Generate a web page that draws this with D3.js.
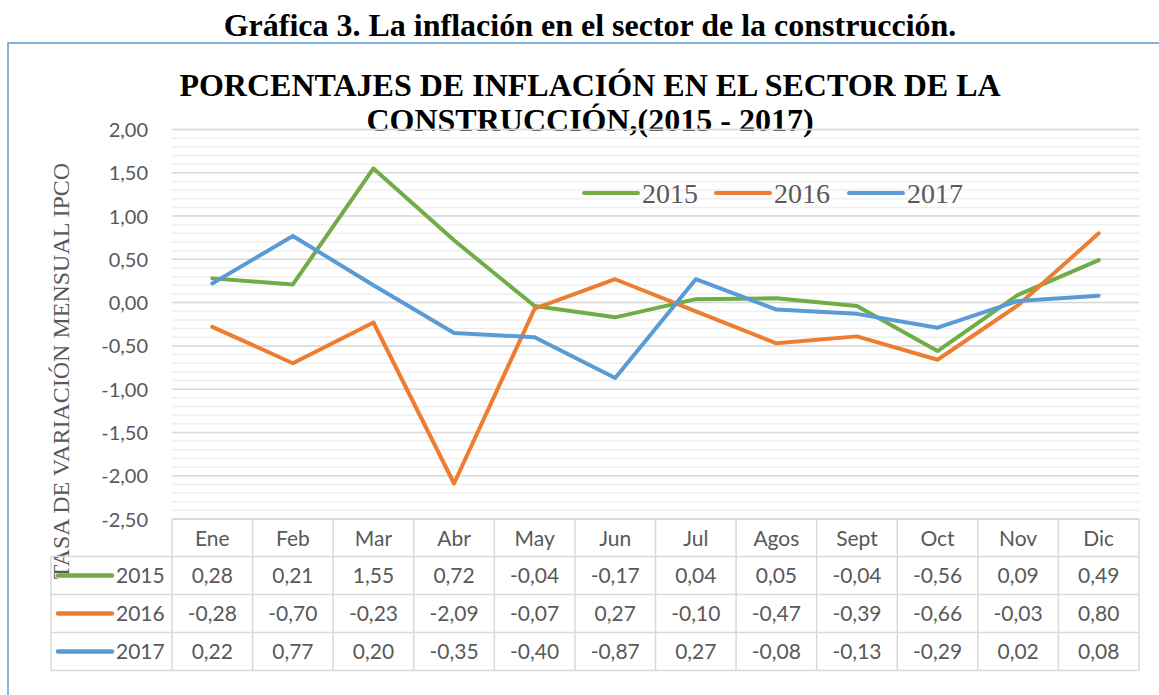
<!DOCTYPE html>
<html>
<head>
<meta charset="utf-8">
<script src="https://cdn.jsdelivr.net/npm/d3@7"></script>
<style>
  body { margin: 0; background: #fff; }
  svg { display: block; }
</style>
</head>
<body>
<div id="chart"></div>
<script>
/*
 * Inflacion mensual del sector de la construccion, 2015 - 2017
 */

var months = ["Ene", "Feb", "Mar", "Abr", "May", "Jun", "Jul", "Agos", "Sept", "Oct", "Nov", "Dic"];
var years = ["2015", "2016", "2017"];
var values2015 = [0.28, 0.21, 1.55, 0.72, -0.04, -0.17, 0.04, 0.05, -0.04, -0.56, 0.09, 0.49];
var values2016 = [-0.28, -0.70, -0.23, -2.09, -0.07, 0.27, -0.10, -0.47, -0.39, -0.66, -0.03, 0.80];
var values2017 = [0.22, 0.77, 0.20, -0.35, -0.40, -0.87, 0.27, -0.08, -0.13, -0.29, 0.02, 0.08];
var yTicks = [2, 1.5, 1, 0.5, 0, -0.5, -1, -1.5, -2, -2.5];

var width = 1159;
var height = 695;
var colors = ["#70ad47", "#ed7d31", "#5b9bd5"];
var series = [values2015, values2016, values2017];
var textGrey = "#595959";
var sansFont = "Lato, 'Open Sans', sans-serif";
var serifFont = "'Liberation Serif', 'Times New Roman', serif";

var fmt = function (v) {
    return d3.format(".2f")(v).replace(".", ",").replace("−", "-");
};

var svg = d3.select('#chart')
    .append('svg')
    .attr('width', width)
    .attr('height', height);

// document heading above the chart frame
svg.append('text')
    .attr('x', 590)
    .attr('y', 36)
    .attr('text-anchor', 'middle')
    .attr('font-family', serifFont)
    .attr('font-weight', 'bold')
    .attr('font-size', 32)
    .text('Gráfica 3. La inflación en el sector de la construcción.');

// frame (runs off the right and bottom edges)
svg.append('rect')
    .attr('x', 8)
    .attr('y', 43)
    .attr('width', 1200)
    .attr('height', 700)
    .attr('fill', 'none')
    .attr('stroke', '#5b9bd5')
    .attr('stroke-width', 1.5);

// chart title
var title = svg.append('text')
    .attr('text-anchor', 'middle')
    .attr('font-family', serifFont)
    .attr('font-weight', 'bold')
    .attr('font-size', 32);
title.append('tspan').attr('x', 590).attr('y', 96)
    .text('PORCENTAJES DE INFLACIÓN EN EL SECTOR DE LA');
title.append('tspan').attr('x', 590).attr('y', 131)
    .text('CONSTRUCCIÓN,(2015 - 2017)');

var plotLeft = 172;
var plotRight = 1139;

var x = d3.scaleBand()
    .domain(months)
    .range([plotLeft, plotRight]);

var y = d3.scaleLinear()
    .domain([-2.5, 2])
    .range([519, 129.5]);

// minor gridlines every 0,10
var minor = d3.range(-25, 21).map(function (d) { return d / 10; });
svg.append('g')
    .selectAll('line')
    .data(minor)
    .enter()
    .append('line')
    .attr('x1', plotLeft)
    .attr('x2', plotRight)
    .attr('y1', function (d) { return y(d); })
    .attr('y2', function (d) { return y(d); })
    .attr('stroke', '#efefef')
    .attr('stroke-width', 1.5);

// major gridlines
svg.append('g')
    .selectAll('line')
    .data(yTicks)
    .enter()
    .append('line')
    .attr('x1', plotLeft)
    .attr('x2', plotRight)
    .attr('y1', function (d) { return y(d); })
    .attr('y2', function (d) { return y(d); })
    .attr('stroke', '#d9d9d9')
    .attr('stroke-width', 1.5);

// y axis labels
var yAxis = d3.axisLeft(y)
    .tickValues(yTicks)
    .tickSize(0)
    .tickPadding(0)
    .tickFormat(fmt);

var yAxisG = svg.append('g')
    .attr('transform', 'translate(148,0)')
    .call(yAxis);
yAxisG.select('.domain').remove();
yAxisG.selectAll('text')
    .attr('dy', '0.35em')
    .attr('font-family', sansFont)
    .attr('font-size', 20)
    .attr('fill', textGrey);

// y axis title
svg.append('text')
    .attr('transform', 'translate(69,371) rotate(-90)')
    .attr('text-anchor', 'middle')
    .attr('font-family', serifFont)
    .attr('font-size', 24)
    .attr('fill', textGrey)
    .text('TASA DE VARIACIÓN MENSUAL IPCO');

// series lines
var line = d3.line()
    .x(function (d, i) { return x(months[i]) + x.bandwidth() / 2; })
    .y(function (d) { return y(d); });

svg.append('g')
    .selectAll('path')
    .data(series)
    .enter()
    .append('path')
    .attr('d', line)
    .attr('fill', 'none')
    .attr('stroke', function (d, i) { return colors[i]; })
    .attr('stroke-width', 4)
    .attr('stroke-linejoin', 'round')
    .attr('stroke-linecap', 'round');

// legend inside plot
var legendX = [584, 716, 849];
var legend = svg.selectAll('.legend')
    .data(years)
    .enter()
    .append('g')
    .attr('class', 'legend')
    .attr('transform', function (d, i) {
        return 'translate(' + legendX[i] + ',193)';
    });
legend.append('line')
    .attr('x1', 0)
    .attr('x2', 54)
    .attr('stroke', function (d, i) { return colors[i]; })
    .attr('stroke-width', 4)
    .attr('stroke-linecap', 'round');
legend.append('text')
    .attr('x', 58)
    .attr('y', 10)
    .attr('font-family', serifFont)
    .attr('font-size', 28)
    .attr('fill', textGrey)
    .text(function (d) { return d; });

// data table
var rowTop = [519, 556.5, 594.5, 632.5];
var rowH = 38;
var tableLeft = 51;
var gridColor = '#d9d9d9';
var table = svg.append('g');

// horizontal borders
table.append('line')
    .attr('x1', plotLeft).attr('x2', plotRight)
    .attr('y1', rowTop[0]).attr('y2', rowTop[0])
    .attr('stroke', gridColor).attr('stroke-width', 1.5);
[rowTop[1], rowTop[2], rowTop[3], rowTop[3] + rowH].forEach(function (yy) {
    table.append('line')
        .attr('x1', tableLeft).attr('x2', plotRight)
        .attr('y1', yy).attr('y2', yy)
        .attr('stroke', gridColor).attr('stroke-width', 1.5);
});

// vertical borders
table.append('line')
    .attr('x1', tableLeft).attr('x2', tableLeft)
    .attr('y1', rowTop[1]).attr('y2', rowTop[3] + rowH)
    .attr('stroke', gridColor).attr('stroke-width', 1.5);
table.selectAll('.vline')
    .data(months.concat(['end']))
    .enter()
    .append('line')
    .attr('class', 'vline')
    .attr('x1', function (d, i) { return plotLeft + i * x.step(); })
    .attr('x2', function (d, i) { return plotLeft + i * x.step(); })
    .attr('y1', rowTop[0])
    .attr('y2', rowTop[3] + rowH)
    .attr('stroke', gridColor)
    .attr('stroke-width', 1.5);

// month headers
table.selectAll('.month')
    .data(months)
    .enter()
    .append('text')
    .attr('class', 'month')
    .attr('x', function (d) { return x(d) + x.bandwidth() / 2; })
    .attr('y', rowTop[0] + rowH / 2)
    .attr('dy', '0.36em')
    .attr('text-anchor', 'middle')
    .attr('font-family', sansFont)
    .attr('font-size', 21)
    .attr('fill', textGrey)
    .text(function (d) { return d; });

// series rows
series.forEach(function (vals, r) {
    var top = rowTop[r + 1];
    table.append('line')
        .attr('x1', 58).attr('x2', 112)
        .attr('y1', top + rowH / 2).attr('y2', top + rowH / 2)
        .attr('stroke', colors[r])
        .attr('stroke-width', 4.5)
        .attr('stroke-linecap', 'round');
    table.append('text')
        .attr('x', 116)
        .attr('y', top + rowH / 2)
        .attr('dy', '0.36em')
        .attr('font-family', sansFont)
        .attr('font-size', 21)
        .attr('fill', textGrey)
        .text(years[r]);
    table.selectAll('.val' + r)
        .data(vals)
        .enter()
        .append('text')
        .attr('class', 'val' + r)
        .attr('x', function (d, i) { return x(months[i]) + x.bandwidth() / 2; })
        .attr('y', top + rowH / 2)
        .attr('dy', '0.36em')
        .attr('text-anchor', 'middle')
        .attr('font-family', sansFont)
        .attr('font-size', 21)
        .attr('fill', textGrey)
        .text(function (d) { return fmt(d); });
});
</script>
</body>
</html>
